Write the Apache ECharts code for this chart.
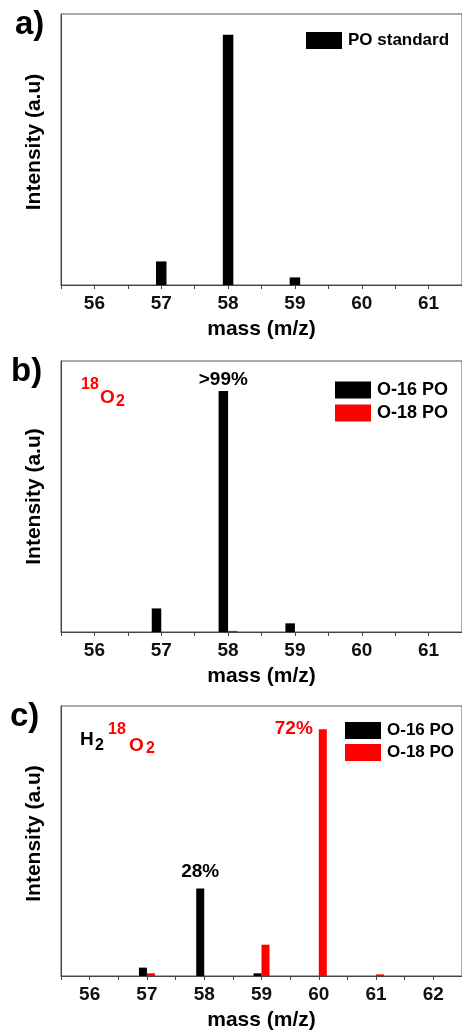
<!DOCTYPE html>
<html>
<head>
<meta charset="utf-8">
<title>PO mass spectra</title>
<script src="https://cdn.jsdelivr.net/npm/echarts@6/dist/echarts.min.js"></script>
<style>
  html, body { margin: 0; padding: 0; background: #fff; }
  #chart { width: 462px; height: 1032px; }
</style>
</head>
<body>
<div id="chart"></div>
<script>
// m/z categories
const massAB = ['56', '57', '58', '59', '60', '61']
const massC = ['56', '57', '58', '59', '60', '61', '62']

// a) PO standard
const poStandard = [0, 8.7, 92.3, 2.8, 0, 0]

// b) 18O2
const o16B = [0, 8.7, 88.9, 3.2, 0, 0]
const o18B = [0, 0, 0.4, 0, 0, 0]
const labelsO16B = ['', '', '>99%', '', '', '']

// c) H2 18O2
const o16C = [0, 3.1, 32.4, 1.0, 0, 0, 0]
const o18C = [0, 1.0, 0, 11.6, 91.4, 0.6, 0]
const labelsO16C = ['', '', '28%', '', '', '', '']
const labelsO18C = ['', '', '', '', '72%', '', '']

const FONT = '"Liberation Sans", Arial, sans-serif'
const AXIS_COLOR = '#444'
const RED = '#ff0000'

const grids = [
  { left: 61, top: 14, width: 402, height: 271 },
  { left: 61, top: 361, width: 402, height: 271 },
  { left: 61, top: 706, width: 402, height: 272 }
].map(g => Object.assign(g, { show: true, borderColor: '#555', borderWidth: 1, containLabel: false }))

function xAxes(gridIndex, data) {
  return [{
    type: 'category',
    gridIndex: gridIndex,
    data: data,
    boundaryGap: true,
    name: 'mass (m/z)',
    nameLocation: 'middle',
    nameGap: 34,
    nameTextStyle: { fontSize: 21, fontWeight: 'bold', color: '#000', fontFamily: FONT },
    axisLine: { show: true, lineStyle: { color: AXIS_COLOR, width: 1 } },
    axisTick: { show: true, alignWithLabel: true, length: 4, lineStyle: { color: AXIS_COLOR } },
    axisLabel: { show: true, margin: 9, fontSize: 19, fontWeight: 'bold', color: '#111', fontFamily: FONT },
    splitLine: { show: false }
  }, {
    // half-step ticks between the masses
    type: 'category',
    gridIndex: gridIndex,
    data: data,
    position: 'bottom',
    boundaryGap: true,
    axisLine: { show: false },
    axisTick: { show: true, alignWithLabel: false, length: 4, lineStyle: { color: AXIS_COLOR } },
    axisLabel: { show: false },
    splitLine: { show: false }
  }]
}

function yAxis(gridIndex, shift) {
  return {
    type: 'value',
    gridIndex: gridIndex,
    min: 0,
    max: 100,
    name: 'Intensity (a.u)',
    nameLocation: 'middle',
    nameGap: 16,
    nameTextStyle: { fontSize: 21, fontWeight: 'bold', color: '#000', fontFamily: FONT, padding: [0, 0, 0, shift] },
    axisLine: { show: true, lineStyle: { color: AXIS_COLOR, width: 1 } },
    axisTick: { show: false },
    axisLabel: { show: false },
    splitLine: { show: false }
  }
}

function legend(left, top, names, fontSize) {
  return {
    left: left,
    top: top,
    orient: 'vertical',
    padding: 0,
    itemGap: 5,
    itemWidth: 36,
    itemHeight: 17,
    icon: 'rect',
    selectedMode: false,
    data: names,
    textStyle: { fontSize: fontSize, fontWeight: 'bold', color: '#000', fontFamily: FONT, padding: [0, 0, 0, 1] }
  }
}

function barLabel(texts, extra) {
  return Object.assign({
    show: true,
    position: 'top',
    fontSize: 19,
    fontWeight: 'bold',
    fontFamily: FONT,
    color: '#000',
    formatter: p => texts[p.dataIndex]
  }, extra || {})
}

function txt(x, y, text, size, color) {
  return {
    type: 'text',
    x: x,
    y: y,
    style: {
      text: text,
      fontSize: size,
      fontWeight: 'bold',
      fontFamily: FONT,
      fill: color,
      verticalAlign: 'middle'
    }
  }
}

const chart = echarts.init(document.getElementById('chart'), null, { renderer: 'canvas' })

chart.setOption({
  animation: false,
  backgroundColor: '#fff',
  textStyle: { fontFamily: FONT },
  grid: grids,
  xAxis: [].concat(xAxes(0, massAB), xAxes(1, massAB), xAxes(2, massC)),
  yAxis: [yAxis(0, 15), yAxis(1, 0), yAxis(2, 15)],
  legend: [
    legend(306, 32, ['PO standard'], 17),
    legend(335, 381, ['O-16 PO', 'O-18 PO'], 18),
    legend(345, 722, ['O-16 PO', 'O-18 PO'], 17)
  ],
  graphic: [
    txt(15, 25, 'a)', 33, '#000'),
    txt(11, 372, 'b)', 33, '#000'),
    txt(10, 717, 'c)', 33, '#000'),
    // 18O2
    txt(81, 385, '18', 16, RED),
    txt(100, 398, 'O', 19, RED),
    txt(116, 402, '2', 16, RED),
    // H2 18O2
    txt(80, 740, 'H', 19, '#000'),
    txt(95, 746, '2', 16, '#000'),
    txt(108, 730, '18', 16, RED),
    txt(129, 746, 'O', 19, RED),
    txt(146, 749, '2', 16, RED)
  ],
  series: [
    {
      name: 'PO standard',
      type: 'bar',
      xAxisIndex: 0,
      yAxisIndex: 0,
      barWidth: 10.5,
      itemStyle: { color: '#000' },
      data: poStandard
    },
    {
      name: 'O-16 PO',
      type: 'bar',
      xAxisIndex: 2,
      yAxisIndex: 1,
      barWidth: 9.5,
      barGap: '0%',
      itemStyle: { color: '#000' },
      label: barLabel(labelsO16B, { distance: 2 }),
      data: o16B
    },
    {
      name: 'O-18 PO',
      type: 'bar',
      xAxisIndex: 2,
      yAxisIndex: 1,
      barWidth: 9.5,
      barGap: '0%',
      itemStyle: { color: RED },
      data: o18B
    },
    {
      name: 'O-16 PO',
      type: 'bar',
      xAxisIndex: 4,
      yAxisIndex: 2,
      barWidth: 8,
      barGap: '0%',
      itemStyle: { color: '#000' },
      label: barLabel(labelsO16C, { distance: 7 }),
      data: o16C
    },
    {
      name: 'O-18 PO',
      type: 'bar',
      xAxisIndex: 4,
      yAxisIndex: 2,
      barWidth: 8,
      barGap: '0%',
      itemStyle: { color: RED },
      label: barLabel(labelsO18C, {
        position: [0, 0],
        align: 'right',
        verticalAlign: 'middle',
        offset: [-6, 0],
        color: RED
      }),
      data: o18C
    }
  ]
})
</script>
</body>
</html>
